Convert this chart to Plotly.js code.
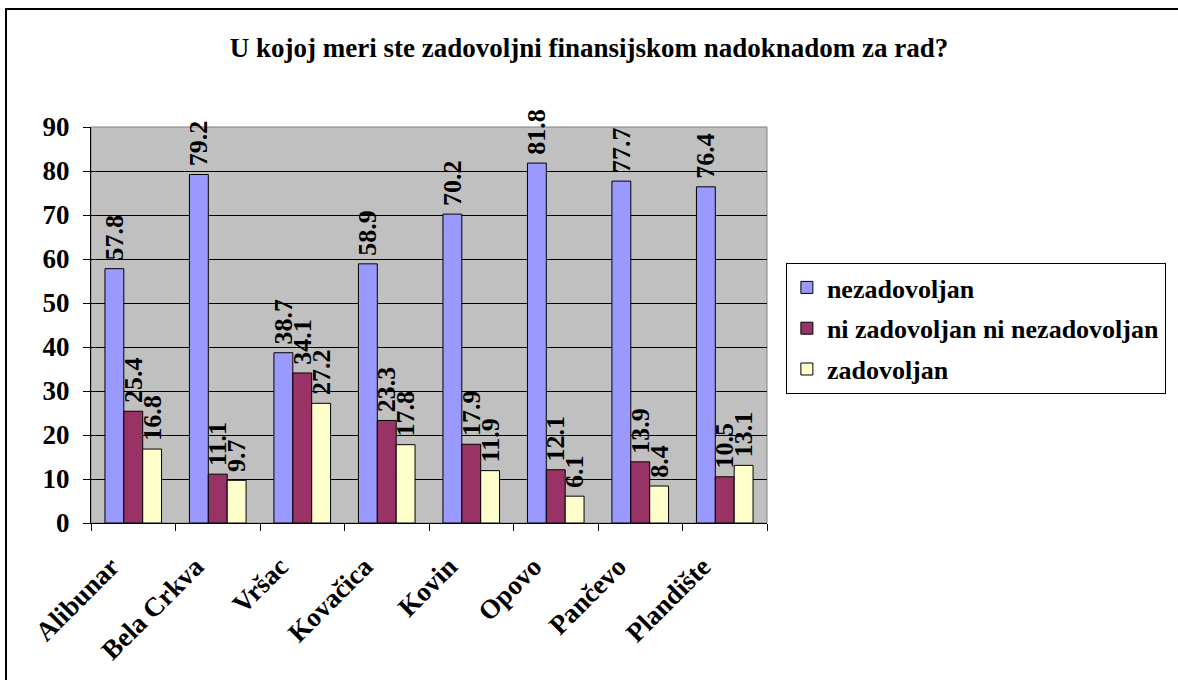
<!DOCTYPE html>
<html>
<head>
<meta charset="utf-8">
<script src="https://cdn.plot.ly/plotly-3.0.1.min.js"></script>
<style>
  html, body { margin: 0; padding: 0; background: #fff; }
  #wrap { position: relative; width: 1178px; height: 680px; overflow: hidden; }
  #chart { width: 1178px; height: 680px; }
  #frame { position: absolute; left: 5px; top: 8px; width: 1200px; height: 700px;
           border-left: 2px solid #000; border-top: 2px solid #000; pointer-events: none; }
</style>
</head>
<body>
<div id="wrap">
  <div id="chart"></div>
  <div id="frame"></div>
</div>
<script>
const categories = ["Alibunar", "Bela Crkva", "Vršac", "Kovačica", "Kovin", "Opovo", "Pančevo", "Plandište"];
const seriesNames = ["nezadovoljan", "ni zadovoljan ni nezadovoljan", "zadovoljan"];
const nezadovoljan = [57.8, 79.2, 38.7, 58.9, 70.2, 81.8, 77.7, 76.4];
const niNi = [25.4, 11.1, 34.1, 23.3, 17.9, 12.1, 13.9, 10.5];
const zadovoljan = [16.8, 9.7, 27.2, 17.8, 11.9, 6.1, 8.4, 13.1];
const yTicks = [0, 10, 20, 30, 40, 50, 60, 70, 80, 90];
const titleText = "U kojoj meri ste zadovoljni finansijskom nadoknadom za rad?";

const colors = ["#9999FF", "#993366", "#FFFFCC"];
const FONT = "Liberation Serif";
const seriesValues = [nezadovoljan, niNi, zadovoljan];

const traces = seriesValues.map((vals, i) => ({
  type: "bar",
  name: seriesNames[i],
  x: categories,
  y: vals,
  legendgroup: "g" + i,
  marker: { color: colors[i], line: { color: "#000", width: 1 } },
  text: vals.map(v => "\u2009" + v.toFixed(1)),
  textposition: "outside",
  textangle: -90,
  constraintext: "none",
  cliponaxis: false,
  textfont: { family: FONT, size: 26, color: "#000", weight: 700 },
  hoverinfo: "x+y+name"
}));

const layout = {
  width: 1178,
  height: 680,
  paper_bgcolor: "#fff",
  plot_bgcolor: "#C0C0C0",
  margin: { l: 91, r: 407, t: 127, b: 157 },
  barmode: "group",
  bargap: 0.33,
  bargroupgap: 0,
  showlegend: true,
  title: {
    text: titleText,
    font: { family: FONT, size: 27, color: "#000", weight: 700 },
    x: 0.5, xref: "container", xanchor: "center",
    y: 1 - 48 / 680, yref: "container", yanchor: "middle"
  },
  font: { family: FONT, color: "#000" },
  xaxis: {
    type: "category",
    tickangle: -45,
    tickfont: { family: FONT, size: 27, color: "#000", weight: 700 },
    ticks: "outside",
    tickson: "boundaries",
    ticklen: 7,
    tickcolor: "#000",
    ticklabelstandoff: 16,
    ticklabelshift: -22,
    showline: true,
    linecolor: "#000",
    linewidth: 1,
    showgrid: false,
    automargin: false
  },
  yaxis: {
    range: [0, 90],
    tickvals: yTicks,
    ticktext: yTicks.map(String),
    tickfont: { family: FONT, size: 27, color: "#000", weight: 700 },
    ticks: "outside",
    ticklen: 7,
    tickcolor: "#000",
    ticklabelstandoff: 8,
    showline: true,
    linecolor: "#000",
    linewidth: 1,
    showgrid: true,
    gridcolor: "#000",
    gridwidth: 1,
    zeroline: false,
    automargin: false
  },
  legend: {
    x: (790 - 91) / 680,
    xanchor: "left",
    y: (523 - 263) / 396,
    yanchor: "top",
    bgcolor: "#fff",
    bordercolor: "#000",
    borderwidth: 1,
    traceorder: "grouped",
    tracegroupgap: 4,
    font: { family: FONT, size: 26, color: "#000", weight: 700 }
  },
  shapes: [{
    type: "rect", xref: "paper", yref: "paper", x0: 0, x1: 1, y0: 0, y1: 1,
    line: { color: "#808080", width: 1 }, fillcolor: "rgba(0,0,0,0)", layer: "below"
  }]
};

Plotly.newPlot("chart", traces, layout, { displayModeBar: false, staticPlot: true });
</script>
</body>
</html>
